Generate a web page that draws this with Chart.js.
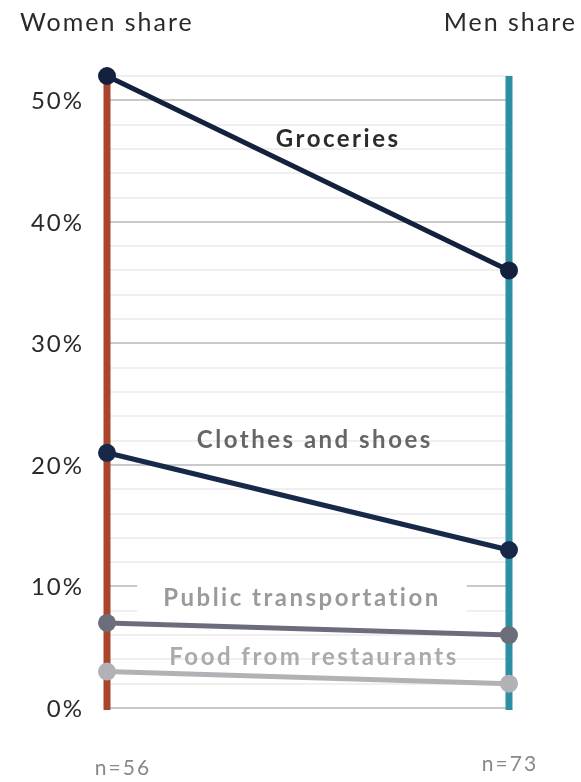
<!DOCTYPE html>
<html>
<head>
<meta charset="utf-8">
<script src="https://cdn.jsdelivr.net/npm/chart.js@4"></script>
<style>
  html, body { margin: 0; padding: 0; background: #fff; }
  #wrap { width: 581px; height: 782px; }
</style>
</head>
<body>
<div id="wrap"><canvas id="slope"></canvas></div>
<script>
// data
const sides = ['Women share', 'Men share'];
const sampleSizes = ['n=56', 'n=73'];
const categories = ['Groceries', 'Clothes and shoes', 'Public transportation', 'Food from restaurants'];
const groceries = [52, 36];
const clothes = [21, 13];
const transport = [7, 6];
const restaurants = [3, 2];
const yTicks = [0, 10, 20, 30, 40, 50];

const lineColors = ['#13213e', '#182848', '#6b6e7a', '#b1b1b6'];
const labelColors = ['#2b2b2b', '#666666', '#9a9a9a', '#ababab'];
const axisColors = ['#a8452c', '#2e8fa3'];
const font = 'Lato, "DejaVu Sans", sans-serif';

// where each series name sits: x share across the plot, y value
const labelSpots = [[0.575, 46.8], [0.517, 22.0], [0.485, 9.05], [0.515, 4.2]];

const seriesValues = [groceries, clothes, transport, restaurants];

// coloured side axes, drawn over the grid but under the lines
const sideAxes = {
  id: 'sideAxes',
  beforeDatasetsDraw(chart) {
    const { ctx, scales: { x, y } } = chart;
    ctx.save();
    ctx.lineWidth = 7;
    sides.forEach((s, i) => {
      const px = x.getPixelForValue(i);
      ctx.strokeStyle = axisColors[i];
      ctx.beginPath();
      ctx.moveTo(px, y.getPixelForValue(52));
      ctx.lineTo(px, y.getPixelForValue(0) + 2);
      ctx.stroke();
    });
    ctx.restore();
  }
};

const textPlugin = {
  id: 'slopeText',
  afterDatasetsDraw(chart) {
    const { ctx, scales: { x, y }, chartArea } = chart;
    ctx.save();
    ctx.textBaseline = 'middle';
    // y tick labels
    ctx.font = '24px ' + font;
    ctx.letterSpacing = '2px';
    ctx.fillStyle = '#2a2a2a';
    ctx.textAlign = 'right';
    yTicks.forEach(v => ctx.fillText(v + '%', 84, y.getPixelForValue(v) + 1));
    // series names
    ctx.font = 'bold 24px ' + font;
    ctx.letterSpacing = '2.5px';
    ctx.textAlign = 'center';
    categories.forEach((name, i) => {
      const px = chartArea.left + (chartArea.right - chartArea.left) * labelSpots[i][0];
      const py = y.getPixelForValue(labelSpots[i][1]);
      if (i === 2) {
        const w = ctx.measureText(name).width;
        ctx.fillStyle = '#ffffff';
        ctx.fillRect(px - w / 2 - 26, py - 16, w + 52, 32);
      }
      ctx.fillStyle = labelColors[i];
      ctx.fillText(name, px, py);
    });
    // header titles
    ctx.font = '25px ' + font;
    ctx.letterSpacing = '2px';
    ctx.fillStyle = '#2a2a2a';
    ctx.textAlign = 'left';
    ctx.fillText(sides[0], 20, 23);
    ctx.textAlign = 'right';
    ctx.fillText(sides[1], 577, 23);
    // sample sizes
    ctx.font = '21px ' + font;
    ctx.fillStyle = '#888888';
    ctx.textAlign = 'center';
    ctx.fillText(sampleSizes[0], x.getPixelForValue(0) + 16, 768);
    ctx.fillText(sampleSizes[1], x.getPixelForValue(1) + 1, 764);
    ctx.restore();
  }
};

new Chart(document.getElementById('slope'), {
  type: 'line',
  data: {
    labels: sides,
    datasets: categories.map((name, i) => ({
      label: name,
      data: seriesValues[i],
      borderColor: lineColors[i],
      backgroundColor: lineColors[i],
      borderWidth: 5,
      pointRadius: 6.5,
      pointHoverRadius: 6.5,
      clip: false
    })).reverse()
  },
  options: {
    responsive: true,
    maintainAspectRatio: false,
    animation: false,
    layout: { padding: { top: 76, right: 72, bottom: 66, left: 0 } },
    plugins: { legend: { display: false }, tooltip: { enabled: false } },
    scales: {
      x: {
        offset: false,
        border: { display: false },
        grid: { display: false },
        ticks: { display: false }
      },
      y: {
        min: 0,
        max: 52,
        afterFit: s => { s.width = 107; },
        afterBuildTicks: s => {
          const t = [];
          for (let v = 0; v <= 52; v += 2) t.push({ value: v });
          s.ticks = t;
        },
        border: { display: false },
        grid: {
          color: c => (yTicks.includes(c.tick.value) ? '#c9c9c9' : '#efefef'),
          lineWidth: 2,
          drawTicks: false
        },
        ticks: { display: false, autoSkip: false }
      }
    }
  },
  plugins: [sideAxes, textPlugin]
});
</script>
</body>
</html>
